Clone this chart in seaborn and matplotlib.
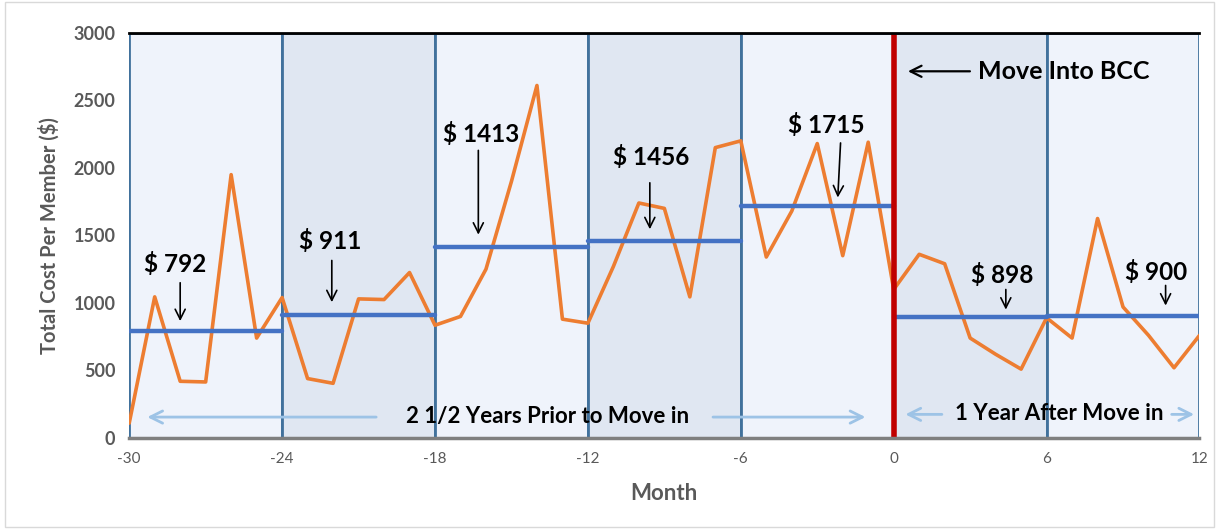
import numpy as np
import pandas as pd
import matplotlib
matplotlib.use("Agg")
import matplotlib.pyplot as plt
import seaborn as sns
from matplotlib.patches import Rectangle

# Monthly cost per member, months -30 .. 12
months = list(range(-30, 13))
cost = [110, 1045, 420, 415, 1950, 740,
        1040, 440, 405, 1030, 1025, 1225,
        835, 900, 1250, 1900, 2610, 880,
        850, 1270, 1740, 1700, 1045, 2150,
        2200, 1340, 1680, 2180, 1350, 2190,
        1100, 1360, 1290, 740, 620, 510,
        890, 740, 1625, 970, 760, 520, 760]

# Six-month periods and their average cost
period_start = [-30, -24, -18, -12, -6, 0, 6]
period_end = [-24, -18, -12, -6, 0, 6, 12]
period_mean = [792, 911, 1413, 1456, 1715, 898, 900]
period_label = ["$ 792", "$ 911", "$ 1413", "$ 1456", "$ 1715", "$ 898", "$ 900"]

x_ticks = [-30, -24, -18, -12, -6, 0, 6, 12]
y_ticks = [0, 500, 1000, 1500, 2000, 2500, 3000]

sns.set_style("white")
plt.rcParams["font.family"] = ["Lato", "DejaVu Sans"]

fig = plt.figure(figsize=(12.19, 5.29), dpi=100)
ax = fig.add_axes([0.106, 0.172, 0.878, 0.766])

grey = "#595959"
light = "#EFF3FB"
dark = "#E0E7F2"
edge = "#41719C"

# shaded period boxes
for i, (s, e) in enumerate(zip(period_start, period_end)):
    ax.add_patch(Rectangle((s, 0), e - s, 3000,
                           facecolor=dark if i % 2 else light,
                           edgecolor=edge, linewidth=2, zorder=1))

df = pd.DataFrame({"Month": months, "Cost": cost})
sns.lineplot(data=df, x="Month", y="Cost", color="#ED7D31", linewidth=2.6,
             ax=ax, zorder=3)

seg = pd.DataFrame({
    "x": [v for s, e in zip(period_start, period_end) for v in (s, e)],
    "y": [m for m in period_mean for _ in (0, 1)],
    "g": [i for i in range(len(period_mean)) for _ in (0, 1)],
})
sns.lineplot(data=seg, x="x", y="y", units="g", estimator=None,
             color="#4472C4", linewidth=3.2, ax=ax, zorder=4, legend=False)

ax.axvline(0, color="#C00000", linewidth=4, zorder=5)

# mean value call-outs: text position, arrow tail, arrow head
label_xy = [(-28.2, 1290), (-22.1, 1460), (-16.2, 2250), (-9.5, 2080),
            (-2.65, 2320), (4.27, 1210), (10.3, 1230)]
arrow_tail = [(-28.0, 1170), (-22.05, 1335), (-16.3, 2150), (-9.57, 1910),
              (-2.08, 2205), (4.4, 1120), (10.67, 1150)]
arrow_head = [(-28.0, 845), (-22.05, 985), (-16.3, 1485), (-9.57, 1525),
              (-2.2, 1760), (4.4, 930), (10.67, 960)]
for lab, (tx, ty), tail, head in zip(period_label, label_xy, arrow_tail, arrow_head):
    ax.text(tx, ty, lab, ha="center", va="center", fontsize=17.5,
            fontweight="bold", color="black", zorder=6)
    ax.annotate("", xy=head, xytext=tail,
                arrowprops=dict(arrowstyle="->", color="black", lw=1.2,
                                mutation_scale=18), zorder=6)

ax.text(3.3, 2715, "Move Into BCC", ha="left", va="center", fontsize=18,
        fontweight="bold", color="black", zorder=6)
ax.annotate("", xy=(0.45, 2715), xytext=(3.1, 2715),
            arrowprops=dict(arrowstyle="->", color="black", lw=1.6,
                            mutation_scale=20), zorder=6)

# span annotations
span_color = "#9DC3E6"
ax.text(-13.6, 160, "2 1/2 Years Prior to Move in", ha="center", va="center",
        fontsize=16, fontweight="bold", color="black", zorder=6)
ax.text(6.5, 185, "1 Year After Move in", ha="center", va="center",
        fontsize=16, fontweight="bold", color="black", zorder=6)
for tail, head in [((-20.2, 155), (-29.4, 155)), ((-7.2, 155), (-1.0, 155)),
                   ((2.0, 175), (0.35, 175)), ((10.8, 175), (11.9, 175))]:
    ax.annotate("", xy=head, xytext=tail,
                arrowprops=dict(arrowstyle="->", color=span_color, lw=2,
                                mutation_scale=22), zorder=6)

ax.set_xlim(-30, 12)
ax.set_ylim(0, 3000)
ax.set_xticks(x_ticks)
ax.set_yticks(y_ticks)
ax.set_xticklabels([str(v) for v in x_ticks], fontsize=11, color=grey)
ax.set_yticklabels([str(v) for v in y_ticks], fontsize=13, color=grey,
                   fontweight="bold")
ax.tick_params(axis="both", length=0, pad=10)
ax.set_xlabel("Month", fontsize=16, fontweight="bold", color=grey, labelpad=12)
ax.set_ylabel("Total Cost Per Member ($)", fontsize=14.5, fontweight="bold",
              color=grey, labelpad=10)

for side in ["left", "right"]:
    ax.spines[side].set_visible(False)
ax.spines["top"].set_color("black")
ax.spines["top"].set_linewidth(2)
ax.spines["bottom"].set_color("#7F7F7F")
ax.spines["bottom"].set_linewidth(2.5)
for sp in ax.spines.values():
    sp.set_zorder(7)

fig.patches.append(Rectangle((0.004, 0.004), 0.992, 0.992, transform=fig.transFigure,
                             fill=False, edgecolor="#D9D9D9", linewidth=1))

fig.savefig("out.png", dpi=100)
